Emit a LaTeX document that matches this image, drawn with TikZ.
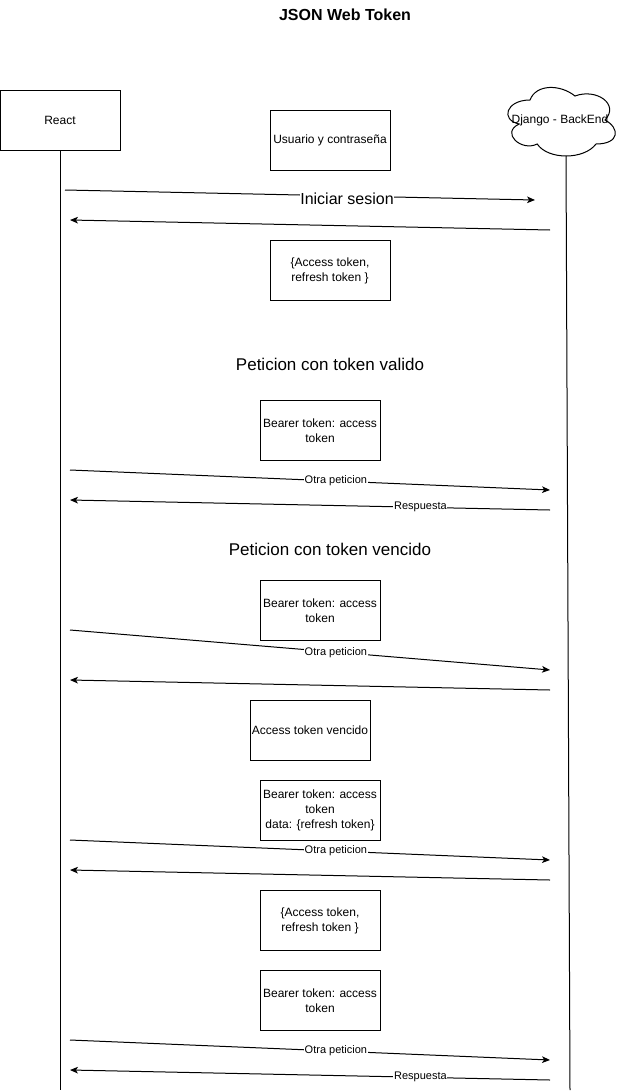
\documentclass[tikz,border=0pt]{standalone}
\usepackage{fontspec}
\setmainfont{Liberation Sans}
\usetikzlibrary{arrows.meta}
\begin{document}
\begin{tikzpicture}[x=0.75pt,y=-0.75pt,
  every node/.style={font=\fontsize{9}{11.25}\selectfont, inner sep=1pt},
  box/.style={draw, line width=0.75pt, minimum width=90pt, minimum height=45pt, align=center, inner sep=0pt},
  msg/.style={line width=0.75pt, -{Stealth[length=6pt,width=5pt,inset=1.6pt]}},
  lbl/.style={fill=white, font=\fontsize{8.25}{9.9}\selectfont, inner sep=0.6pt},
  biglbl/.style={font=\fontsize{12}{14.4}\selectfont},
  sectitle/.style={font=\fontsize{12.75}{15.3}\selectfont},
  life/.style={line width=0.75pt}]
\useasboundingbox (0,0) rectangle (621,1092);

% title
\node[font=\bfseries\fontsize{12}{14.4}\selectfont] (title) at (345,15) {JSON Web Token};

% participants
\node[box] (react) at (60,120) {React};
\draw[line width=0.75pt, fill=white] (530,100)
  .. controls (506,100) and (500,120) .. (519.2,124)
  .. controls (500,132.8) and (521.6,152) .. (537.2,144)
  .. controls (548,160) and (584,160) .. (596,144)
  .. controls (620,144) and (620,128) .. (605,120)
  .. controls (620,104) and (596,88) .. (575,96)
  .. controls (560,84) and (536,84) .. (530,100) -- cycle;
\node (django) at (560,120) {Django - BackEnd};

% lifelines
\coordinate (reactend) at (60,1090);
\coordinate (djtop) at (566,156);
\coordinate (djend) at (570,1090);
\draw[life] (react.south) -- (reactend);
\draw[life] (djtop) -- (djend);

% boxes
\node[box] (usuario) at (330,140) {Usuario y contraseña};
\node[box] (tokens1) at (330,270.5) {\{Access token,\\refresh token \}};
\node[box] (bearer1) at (320,430.5) {Bearer token: access\\token};
\node[box] (bearer2) at (320,610.5) {Bearer token: access\\token};
\node[box] (vencido) at (310,730) {Access token vencido};
\node[box] (bearer3) at (320,810.5) {Bearer token: access\\token\\data: \{refresh token\}};
\node[box] (tokens2) at (320,920.5) {\{Access token,\\refresh token \}};
\node[box] (bearer4) at (320,1000.5) {Bearer token: access\\token};

% section titles
\node[sectitle] (valido) at (330,364) {Peticion con token valido};
\node[sectitle] (vencidot) at (330,549) {Peticion con token vencido};

% message end points
\coordinate (m1s) at (65,190);   \coordinate (m1e) at (535,200);
\coordinate (m2s) at (550,230);  \coordinate (m2e) at (70,220);
\coordinate (m3s) at (70,470);   \coordinate (m3e) at (550,490);
\coordinate (m4s) at (550,510);  \coordinate (m4e) at (70,500);
\coordinate (m5s) at (70,630);   \coordinate (m5e) at (550,670);
\coordinate (m6s) at (550,690);  \coordinate (m6e) at (70,680);
\coordinate (m7s) at (70,840);   \coordinate (m7e) at (550,860);
\coordinate (m8s) at (550,880);  \coordinate (m8e) at (70,870);
\coordinate (m9s) at (70,1040);  \coordinate (m9e) at (550,1060);
\coordinate (m10s) at (550,1080); \coordinate (m10e) at (70,1070);

% messages
\draw[msg] (m1s) -- node[pos=0.6, lbl, biglbl, yshift=-2pt] {Iniciar sesion} (m1e);
\draw[msg] (m2s) -- (m2e);
\draw[msg] (m3s) -- node[pos=0.554, lbl] {Otra peticion} (m3e);
\draw[msg] (m4s) -- node[pos=0.27, lbl] {Respuesta} (m4e);
\draw[msg] (m5s) -- node[pos=0.554, lbl] {Otra peticion} (m5e);
\draw[msg] (m6s) -- (m6e);
\draw[msg] (m7s) -- node[pos=0.554, lbl] {Otra peticion} (m7e);
\draw[msg] (m8s) -- (m8e);
\draw[msg] (m9s) -- node[pos=0.554, lbl] {Otra peticion} (m9e);
\draw[msg] (m10s) -- node[pos=0.27, lbl] {Respuesta} (m10e);
\end{tikzpicture}
\end{document}
